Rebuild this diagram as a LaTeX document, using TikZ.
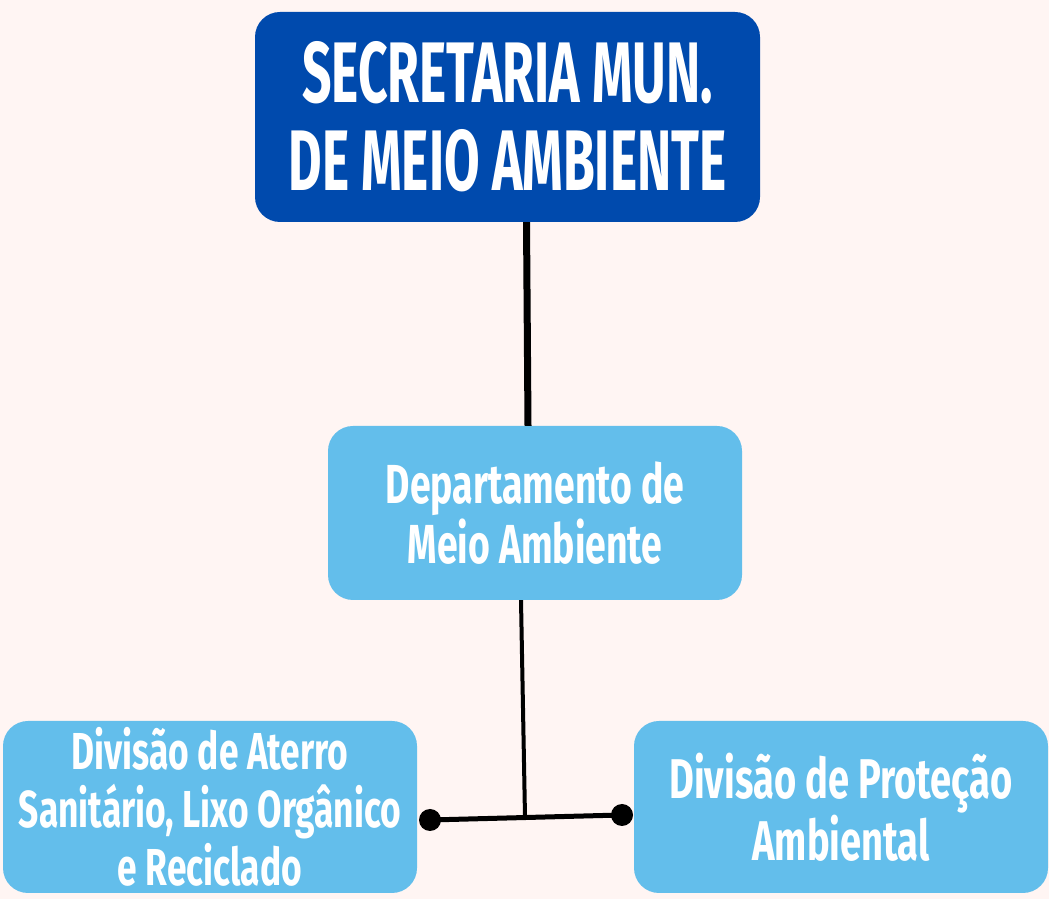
\documentclass[tikz,border=0pt]{standalone}
\usepackage{fontspec}
\setmainfont{Fira Sans}
\newfontfamily\titulofont[FakeStretch=0.6]{Fira Sans}
\newfontfamily\caixafont[FakeStretch=0.68]{Fira Sans}
\usetikzlibrary{arrows}

\definecolor{fundo}{HTML}{FFF5F3}
\definecolor{azulescuro}{HTML}{004AAD}
\definecolor{azulclaro}{HTML}{63BEEB}

\begin{document}
\begin{tikzpicture}[x=1pt,y=1pt,line cap=butt,text=white]
  \tikzstyle{caixa}=[rounded corners=25pt,align=center,inner sep=0pt]
  \tikzstyle{chefe}=[caixa,fill=azulescuro,minimum width=505pt,minimum height=210pt,
                     font=\titulofont\bfseries\fontsize{86}{88}\selectfont]
  \tikzstyle{setor}=[caixa,fill=azulclaro,minimum width=414pt,minimum height=174pt,
                     font=\caixafont\bfseries\fontsize{55}{60}\selectfont]
  \tikzstyle{divisao}=[caixa,fill=azulclaro,minimum width=414pt,minimum height=172pt,
                     font=\caixafont\bfseries\fontsize{52}{58}\selectfont]

  \fill[fundo] (0,0) rectangle (1049,899);

  \node[chefe]   (secretaria)   at (507.5,782) {SECRETARIA MUN.\\DE MEIO AMBIENTE};
  \node[setor]   (departamento) at (535,386)   {Departamento de\\Meio Ambiente};
  \node[divisao] (aterro)       at (210,92)    {Divisão de Aterro\\Sanitário, Lixo Orgânico\\e Reciclado};
  \node[divisao,font=\caixafont\bfseries\fontsize{56}{62}\selectfont]
                 (protecao)     at (841,92)    {Divisão de Proteção\\Ambiental};

  \coordinate (juncao) at (525,82);
  \coordinate (pontoA) at (430,79);
  \coordinate (pontoB) at (622,84);

  \draw[line width=7pt] ([xshift=19pt]secretaria.south) -- ([xshift=-7pt]departamento.north);
  \draw[line width=4pt] ([xshift=-14pt]departamento.south) -- (juncao);
  \draw[line width=5pt] (pontoA) -- (pontoB);
  \fill (pontoA) circle (11pt)
        (pontoB) circle (11pt);
\end{tikzpicture}
\end{document}
